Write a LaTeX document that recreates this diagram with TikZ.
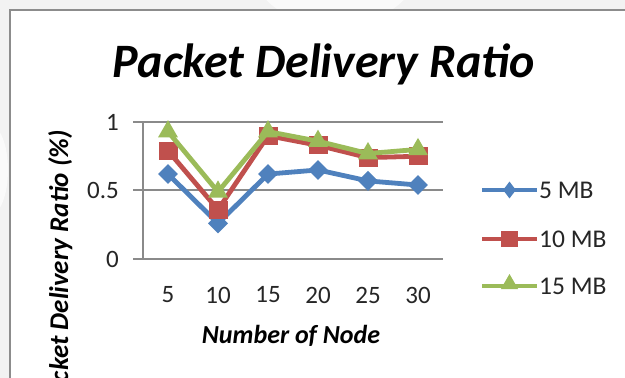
\documentclass[tikz,border=0pt]{standalone}
\usepackage{fontspec}
\setmainfont{Carlito}
\usetikzlibrary{shapes.geometric}
\definecolor{bggray}{HTML}{F2F2F2}
\definecolor{wmark}{HTML}{FAFAFA}
\definecolor{framegray}{HTML}{8C8C8C}
\definecolor{gridgray}{HTML}{8A8A8A}
\definecolor{sblue}{HTML}{4F81BD}
\definecolor{sred}{HTML}{C0504D}
\definecolor{sgreen}{HTML}{9BBB59}
\definecolor{txt}{HTML}{262626}
\tikzset{
  gridline/.style={draw=gridgray, line width=1.3pt},
  ticklab/.style={inner sep=0pt, text=txt, font=\fontsize{25}{25}\selectfont},
  serline/.style={line width=4.8pt, line join=round, line cap=round},
  dmark/.style={diamond, fill=sblue, inner sep=0pt, minimum width=20pt, minimum height=20pt},
  smark/.style={rectangle, fill=sred, inner sep=0pt, minimum width=19pt, minimum height=18pt},
  tmark/.style={regular polygon, regular polygon sides=3, fill=sgreen, inner sep=0pt, minimum size=23pt},
  ldmark/.style={diamond, fill=sblue, inner sep=0pt, minimum width=13pt, minimum height=17pt},
  lsmark/.style={rectangle, fill=sred, inner sep=0pt, minimum width=17pt, minimum height=16pt},
  ltmark/.style={regular polygon, regular polygon sides=3, fill=sgreen, inner sep=0pt, minimum size=20pt},
  legtext/.style={anchor=west, inner sep=0pt, text=txt, font=\fontsize{25.5}{25.5}\selectfont},
}
\begin{document}
\begin{tikzpicture}[x=1pt,y=-1pt]
\clip (0,0) rectangle (625,378);
\fill[bggray] (0,0) rectangle (625,378);
% faint watermark
\fill[wmark] (335,-30) ellipse (82 and 55);
\fill[wmark] (-10,170) ellipse (18 and 45);
% chart panel
\filldraw[fill=white, draw=framegray, line width=2.2pt] (10,10) rectangle (640,395);
% title
\node[inner sep=0pt, anchor=base, font=\fontsize{48}{48}\selectfont\bfseries\itshape] (title) at (324,77) {Packet Delivery Ratio};
% axes and gridlines
\coordinate (g0l) at (133,259); \coordinate (g0r) at (443,259);
\coordinate (g5l) at (133,190); \coordinate (g5r) at (443,190);
\coordinate (g1l) at (133,122); \coordinate (g1r) at (443,122);
\coordinate (yat) at (143,122); \coordinate (yab) at (143,259);
\draw[gridline] (g5l) -- (g5r);
\draw[gridline] (g1l) -- (g1r);
\draw[gridline] (g0l) -- (g0r);
\draw[gridline] (yat) -- (yab);
% y tick labels
\node[ticklab, anchor=east] (y0) at (119,259) {0};
\node[ticklab, anchor=east] (y5) at (119,190) {0.5};
\node[ticklab, anchor=east] (y1) at (119,122) {1};
% x tick labels
\foreach \k/\l in {1/5,2/10,3/15,4/20,5/25,6/30}{
  \node[ticklab] (x\k) at ({118+50*\k},295) {\l};
}
% axis titles
\node[inner sep=0pt, anchor=base, font=\fontsize{26}{26}\selectfont\bfseries\itshape] (xtitle) at (291,343) {Number of Node};
\node[inner sep=0pt, anchor=north east, rotate=90, font=\fontsize{27}{27}\selectfont\bfseries\itshape] (ytitle) at (48,130) {Packet Delivery Ratio (\%)};
% data
\begin{scope}[shift={(118,259)}, x=50pt, y=137pt]
  \foreach \k/\v in {1/0.62,2/0.26,3/0.62,4/0.65,5/0.57,6/0.54}{\coordinate (b\k) at (\k,\v);}
  \foreach \k/\v in {1/0.79,2/0.36,3/0.90,4/0.83,5/0.74,6/0.75}{\coordinate (r\k) at (\k,\v);}
  \foreach \k/\v in {1/0.93,2/0.49,3/0.93,4/0.86,5/0.77,6/0.80}{\coordinate (g\k) at (\k,\v);}
\end{scope}
\draw[serline, sblue] (b1) -- (b2) -- (b3) -- (b4) -- (b5) -- (b6);
\foreach \k in {1,...,6}{\node[dmark] (bm\k) at (b\k) {};}
\draw[serline, sred] (r1) -- (r2) -- (r3) -- (r4) -- (r5) -- (r6);
\foreach \k in {1,...,6}{\node[smark] (rm\k) at (r\k) {};}
\draw[serline, sgreen] (g1) -- (g2) -- (g3) -- (g4) -- (g5) -- (g6);
\foreach \k in {1,...,6}{\node[tmark] (gm\k) at (g\k) {};}
% legend
\coordinate (lb1) at (482,190); \coordinate (lb2) at (537,190);
\coordinate (lr1) at (482,239); \coordinate (lr2) at (537,239);
\coordinate (lg1) at (482,286); \coordinate (lg2) at (537,286);
\draw[serline, sblue, line cap=butt] (lb1) -- (lb2);
\node[ldmark] (lbm) at (509.5,190) {};
\draw[serline, sred, line cap=butt] (lr1) -- (lr2);
\node[lsmark] (lrm) at (509.5,239) {};
\draw[serline, sgreen, line cap=butt] (lg1) -- (lg2);
\node[ltmark] (lgm) at (509.5,284) {};
\node[legtext] (lbt) at (539,190) {5 MB};
\node[legtext] (lrt) at (539,239) {10 MB};
\node[legtext] (lgt) at (539,286) {15 MB};
\end{tikzpicture}
\end{document}
